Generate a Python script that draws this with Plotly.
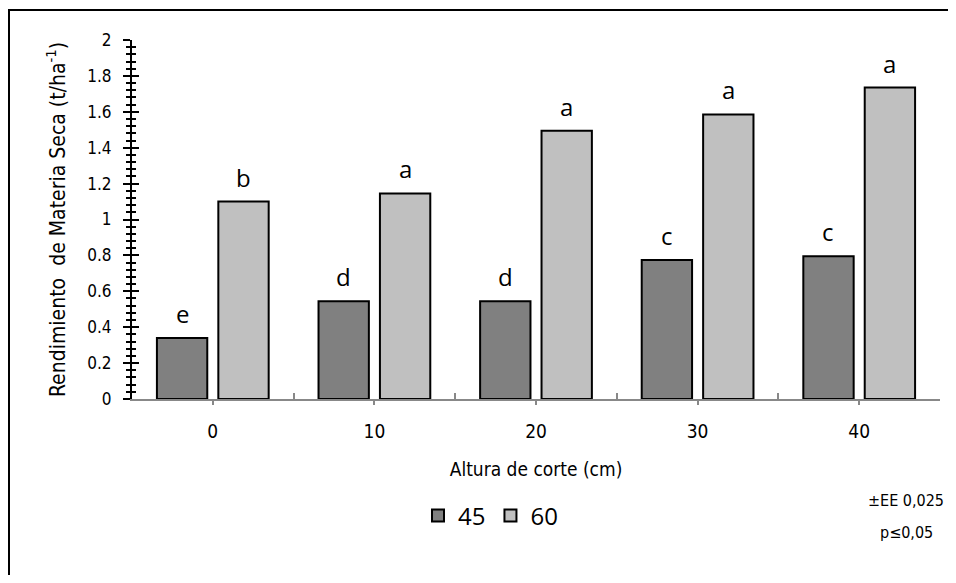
import plotly.graph_objects as go

categories = ["0", "10", "20", "30", "40"]
series_names = ["45", "60"]
values_45 = [0.34, 0.545, 0.545, 0.775, 0.795]
values_60 = [1.10, 1.145, 1.495, 1.585, 1.735]
letters_45 = ["e", "d", "d", "c", "c"]
letters_60 = ["b", "a", "a", "a", "a"]
y_ticks = [0, 0.2, 0.4, 0.6, 0.8, 1, 1.2, 1.4, 1.6, 1.8, 2]

COND = "DejaVu Sans Condensed, DejaVu Sans, sans-serif"
LET = "Open Sans, Noto Sans, sans-serif"

OFF = 8  # page body margin
W, H = 956 - 2 * OFF, 583 - 2 * OFF
L, T = 132 - OFF, 40 - OFF
R = W - (940 - OFF)
B = H - (399 - OFF)
PW, PH = W - L - R, H - T - B
BARGAP, GROUPGAP = 0.24, 0.18
slot = PW / len(categories) * (1 - BARGAP) / 2


def px_x(p):
    return (p - OFF - L) / PW


def px_y(p):
    return (T + PH - (p - OFF)) / PH


fig = go.Figure()
fig.add_trace(go.Bar(
    x=categories, y=values_45, name=series_names[0],
    marker=dict(color="#808080", line=dict(color="black", width=2)),
))
fig.add_trace(go.Bar(
    x=categories, y=values_60, name=series_names[1],
    marker=dict(color="#c0c0c0", line=dict(color="black", width=2)),
))
# invisible trace to drive boundary ticks on overlay axis
fig.add_trace(go.Scatter(x=categories, y=values_45, xaxis="x2", yaxis="y2",
                         mode="markers", marker=dict(opacity=0),
                         showlegend=False, hoverinfo="skip"))

for letters, vals, shift in ((letters_45, values_45, -slot / 2), (letters_60, values_60, slot / 2)):
    for i, (v, t) in enumerate(zip(vals, letters)):
        fig.add_annotation(x=i, y=v, xref="x", yref="y", text=t, showarrow=False,
                           xshift=shift, yshift=6, yanchor="bottom", xanchor="center",
                           font=dict(family=LET, size=24, color="black"))

fig.update_layout(
    width=W, height=H,
    margin=dict(l=L, r=R, t=T, b=B, autoexpand=False),
    paper_bgcolor="white", plot_bgcolor="white",
    barmode="group", bargap=BARGAP, bargroupgap=GROUPGAP,
    showlegend=True,
    legend=dict(orientation="h", x=px_x(418), y=px_y(516),
                xanchor="left", yanchor="middle",
                font=dict(family=LET, size=24, color="black"),
                itemwidth=30, traceorder="normal", tracegroupgap=0),
    xaxis=dict(type="category", categoryarray=categories, range=[-0.5, 4.5],
               automargin=False,
               showline=True, linecolor="#888888", linewidth=1.5,
               ticks="outside", ticklen=4, tickcolor="#888888", tickwidth=1.5,
               ticklabelstandoff=10,
               tickfont=dict(family=COND, size=19, color="black"),
               title=dict(text="Altura de corte (cm)", standoff=22,
                          font=dict(family=COND, size=19, color="black")),
               showgrid=False, zeroline=False),
    xaxis2=dict(type="category", categoryarray=categories, range=[-0.5, 4.5],
                overlaying="x", matches="x", tickson="boundaries", automargin=False,
                ticks="inside", ticklen=6, tickcolor="#888888", tickwidth=1.5,
                showticklabels=False, showline=False, showgrid=False, zeroline=False),
    yaxis=dict(range=[0, 2], tickvals=y_ticks, automargin=False,
               showline=True, linecolor="black", linewidth=2,
               ticks="outside", ticklen=7, tickcolor="black", tickwidth=2,
               minor=dict(dtick=0.04, ticks="outside", ticklen=4, tickcolor="black", tickwidth=1.5),
               ticklabelstandoff=8,
               tickfont=dict(family=COND, size=17, color="black"),
               title=dict(text="Rendimiento  de Materia Seca (t/ha<sup>-1</sup>)", standoff=16,
                          font=dict(family=COND, size=21, color="black")),
               showgrid=False, zeroline=False),
    yaxis2=dict(range=[0, 2], overlaying="y", matches="y", tickvals=y_ticks, automargin=False,
                ticks="inside", ticklen=7, tickcolor="black", tickwidth=2,
                minor=dict(dtick=0.04, ticks="inside", ticklen=4, tickcolor="black", tickwidth=1.5),
                showticklabels=False, showline=False, showgrid=False, zeroline=False),
)

fig.add_annotation(text="±EE 0,025", xref="paper", yref="paper",
                   x=px_x(906), y=px_y(500), xanchor="center", yanchor="middle",
                   showarrow=False, font=dict(family=COND, size=16, color="black"))
fig.add_annotation(text="p≤0,05", xref="paper", yref="paper",
                   x=px_x(906), y=px_y(532), xanchor="center", yanchor="middle",
                   showarrow=False, font=dict(family=COND, size=16, color="black"))

fig.add_shape(type="rect", xref="paper", yref="paper",
              x0=px_x(9), x1=px_x(970),
              y0=px_y(600), y1=px_y(10),
              line=dict(color="black", width=2), fillcolor="rgba(0,0,0,0)", layer="above")

fig.write_html("out.html")
